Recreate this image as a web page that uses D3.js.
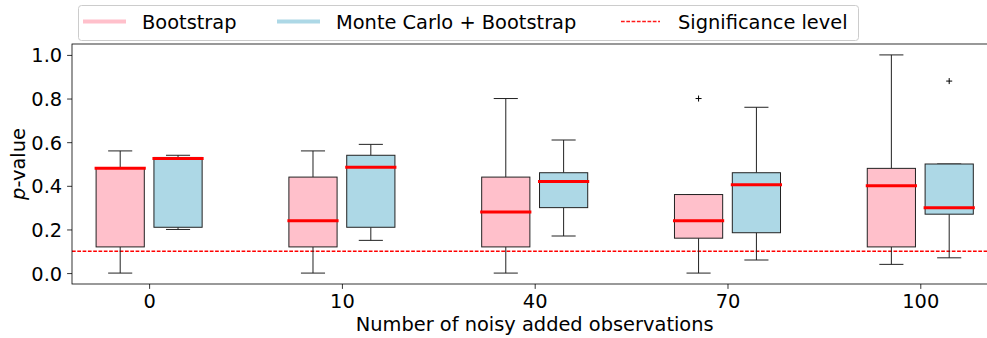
<!DOCTYPE html>
<html>
<head>
<meta charset="utf-8">
<script src="https://cdn.jsdelivr.net/npm/d3@7"></script>
<style>
  body { margin: 0; background: #fff; }
  svg { font-family: "DejaVu Sans", sans-serif; }
</style>
</head>
<body>
<div id="chart"></div>
<script>
const width = 987;
const height = 338;
const fontSize = 19.4;

// number of noisy added observations
const categories = ["0", "10", "40", "70", "100"];

// Bootstrap boxes
const bootLow = [0.0, 0.0, 0.0, 0.0, 0.04];
const bootQ1 = [0.12, 0.12, 0.12, 0.16, 0.12];
const bootMed = [0.48, 0.24, 0.28, 0.24, 0.40];
const bootQ3 = [0.48, 0.44, 0.44, 0.36, 0.48];
const bootHigh = [0.56, 0.56, 0.80, 0.36, 1.00];
const bootOut = [[], [], [], [0.80], []];

// Monte Carlo + Bootstrap boxes
const mcLow = [0.20, 0.15, 0.17, 0.06, 0.07];
const mcQ1 = [0.21, 0.21, 0.30, 0.185, 0.27];
const mcMed = [0.525, 0.485, 0.42, 0.405, 0.30];
const mcQ3 = [0.53, 0.54, 0.46, 0.46, 0.50];
const mcHigh = [0.54, 0.59, 0.61, 0.76, 0.50];
const mcOut = [[], [], [], [], [0.88]];

const yTicks = [0.0, 0.2, 0.4, 0.6, 0.8, 1.0];
const significance = 0.1;

// plot area (right side runs past the picture edge, as in the original)
const plot = {left: 72, right: 997.4, top: 44, bottom: 284};

const svg = d3.select("#chart")
	.append("svg")
	.attr("width", width)
	.attr("height", height)

const x = d3.scaleLinear()
	.domain([-0.4, 4.4])
	.range([plot.left, plot.right])

const y = d3.scaleLinear()
	.domain([-0.05, 1.05])
	.range([plot.bottom, plot.top])

const unit = x(1) - x(0);
const boxW = 0.25 * unit;
const offset = 0.15 * unit;

function boxes(low, q1, med, q3, high, out, fill, shift){
	let g = svg.append("g")
	categories.forEach(function (c, i){
		let cx = x(i) + shift
		// whiskers
		g.append("line")
			.attr("x1", cx).attr("x2", cx)
			.attr("y1", y(q1[i])).attr("y2", y(low[i]))
			.attr("stroke", "#222").attr("stroke-width", 1)
		g.append("line")
			.attr("x1", cx).attr("x2", cx)
			.attr("y1", y(q3[i])).attr("y2", y(high[i]))
			.attr("stroke", "#222").attr("stroke-width", 1)
		// caps
		;[low[i], high[i]].forEach(function (v){
			g.append("line")
				.attr("x1", cx - boxW / 4).attr("x2", cx + boxW / 4)
				.attr("y1", y(v)).attr("y2", y(v))
				.attr("stroke", "#222").attr("stroke-width", 1)
		})
		// box
		g.append("rect")
			.attr("x", cx - boxW / 2)
			.attr("width", boxW)
			.attr("y", y(q3[i]))
			.attr("height", y(q1[i]) - y(q3[i]))
			.attr("fill", fill)
			.attr("stroke", "#222").attr("stroke-width", 1)
		// median
		g.append("line")
			.attr("x1", cx - boxW / 2).attr("x2", cx + boxW / 2)
			.attr("y1", y(med[i])).attr("y2", y(med[i]))
			.attr("stroke", "red").attr("stroke-width", 3)
			.attr("stroke-linecap", "square")
		// outliers
		out[i].forEach(function (v){
			g.append("path")
				.attr("d", `M${cx - 3},${y(v)}H${cx + 3}M${cx},${y(v) - 3}V${y(v) + 3}`)
				.attr("stroke", "#000").attr("stroke-width", 1)
		})
	})
}

// significance level
svg.append("line")
	.attr("x1", plot.left).attr("x2", width)
	.attr("y1", y(significance)).attr("y2", y(significance))
	.attr("stroke", "#ff0000").attr("stroke-width", 1.5)
	.attr("stroke-dasharray", "3.7,1.6")

boxes(bootLow, bootQ1, bootMed, bootQ3, bootHigh, bootOut, "pink", -offset)
boxes(mcLow, mcQ1, mcMed, mcQ3, mcHigh, mcOut, "lightblue", offset)

// axes
const xAxis = svg.append("g")
	.attr("transform", `translate(0,${plot.bottom})`)
	.call(d3.axisBottom(x).tickValues(d3.range(categories.length))
		.tickFormat(function (d){ return categories[d] })
		.tickSize(4.9).tickPadding(5))

const yAxis = svg.append("g")
	.attr("transform", `translate(${plot.left},0)`)
	.call(d3.axisLeft(y).tickValues(yTicks).tickFormat(d3.format(".1f"))
		.tickSize(4.9).tickPadding(4.9))

;[xAxis, yAxis].forEach(function (a){
	a.select(".domain").remove()
	a.attr("font-size", null).attr("font-family", null)
	a.selectAll("text").attr("font-size", fontSize).attr("fill", "#000")
	a.selectAll("line").attr("stroke", "#000").attr("stroke-width", 0.8)
})
xAxis.selectAll("text").attr("dy", null).attr("y", 24)
yAxis.selectAll("text").attr("dy", "0.36em")

// frame
svg.append("rect")
	.attr("x", plot.left)
	.attr("y", plot.top)
	.attr("width", plot.right - plot.left)
	.attr("height", plot.bottom - plot.top)
	.attr("fill", "none")
	.attr("stroke", "#000")
	.attr("stroke-width", 0.8)

// axis labels
svg.append("text")
	.attr("x", (plot.left + plot.right) / 2)
	.attr("y", 331)
	.attr("text-anchor", "middle")
	.attr("font-size", fontSize)
	.text("Number of noisy added observations")

let yl = svg.append("text")
	.attr("transform", `translate(25,${(plot.top + plot.bottom) / 2}) rotate(-90)`)
	.attr("text-anchor", "middle")
	.attr("font-size", fontSize)
yl.append("tspan").attr("font-style", "italic").text("p")
yl.append("tspan").text("-value")

// legend
const legend = svg.append("g")

legend.append("rect")
	.attr("x", 78.5).attr("y", 5.5)
	.attr("width", 780).attr("height", 35)
	.attr("rx", 3)
	.attr("fill", "#fff").attr("fill-opacity", 0.8)
	.attr("stroke", "#ccc").attr("stroke-width", 1)

const legendLabels = ["Bootstrap", "Monte Carlo + Bootstrap", "Significance level"];
const legendColors = ["pink", "lightblue", "#ff0000"];
const legendX = [85, 279, 621];

legendLabels.forEach(function (label, i){
	let dashed = i == 2
	legend.append("line")
		.attr("x1", legendX[i]).attr("x2", legendX[i] + 39)
		.attr("y1", 21.5).attr("y2", 21.5)
		.attr("stroke", legendColors[i])
		.attr("stroke-width", dashed ? 1.5 : 4)
		.attr("stroke-opacity", dashed ? 0.9 : 1)
		.attr("stroke-linecap", dashed ? "butt" : "square")
		.attr("stroke-dasharray", dashed ? "3.7,1.6" : null)
	legend.append("text")
		.attr("x", legendX[i] + 57)
		.attr("y", 28.5)
		.attr("font-size", fontSize)
		.text(label)
})
</script>
</body>
</html>
